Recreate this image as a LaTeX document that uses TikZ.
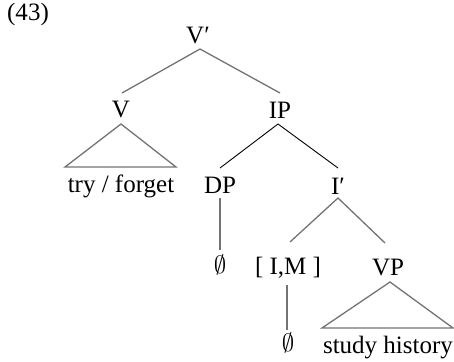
\documentclass[tikz,border=0pt]{standalone}
\usepackage{fontspec}
\setmainfont{Liberation Serif}
\begin{document}
\begin{tikzpicture}[x=1pt,y=-1pt,
  lbl/.style={anchor=base,inner sep=0pt,font=\fontsize{25}{30}\selectfont},
  br/.style={draw=black!55,line width=1.3pt},
  dk/.style={draw=black,line width=0.9pt}]
\useasboundingbox (0,0) rectangle (454,361);
% labels
\node[lbl] (ex)   at (28,21)  {(43)};
\node[lbl] (vbar) at (198,43) {V′};
\node[lbl] (v)    at (121,117) {V};
\node[lbl] (tf)   at (121,192) {try / forget};
\node[lbl] (ip)   at (280,118) {IP};
\node[lbl] (dp)   at (220,193) {DP};
\node[lbl] (ibar) at (338,194) {I′};
\node[lbl] (e1)   at (220,273) {$\emptyset$};
\node[lbl] (im)   at (288,274) {[ I,M ]};
\node[lbl] (vp)   at (388,275) {VP};
\node[lbl] (e2)   at (288,351) {$\emptyset$};
\node[lbl] (sh)   at (388,353) {study history};
% connector ends
\coordinate (vbarB) at (200,49);
\coordinate (vT) at (122,93);
\coordinate (ipT) at (280,93);
\coordinate (vA) at (121,124);
\coordinate (vL) at (65,167);
\coordinate (vR) at (176,167);
\coordinate (ipB) at (278,124);
\coordinate (dpT) at (220,168);
\coordinate (ibarT) at (338,168);
\coordinate (dpB) at (220,198);
\coordinate (e1T) at (220,250);
\coordinate (ibarB) at (338,198);
\coordinate (imT) at (290,242);
\coordinate (vpT) at (385,243);
\coordinate (imB) at (287,285);
\coordinate (e2T) at (287,330);
\coordinate (vpA) at (390,282);
\coordinate (vpL) at (322,328);
\coordinate (vpR) at (453,328);
% connectors
\draw[br] (vT) -- (vbarB) -- (ipT);
\draw[br,line join=miter] (vA) -- (vL) -- (vR) -- cycle;
\draw[dk] (dpT) -- (ipB) -- (ibarT);
\draw[br] (dpB) -- (e1T);
\draw[br] (imT) -- (ibarB) -- (vpT);
\draw[br] (imB) -- (e2T);
\draw[br,line join=miter] (vpA) -- (vpL) -- (vpR) -- cycle;
\end{tikzpicture}
\end{document}
